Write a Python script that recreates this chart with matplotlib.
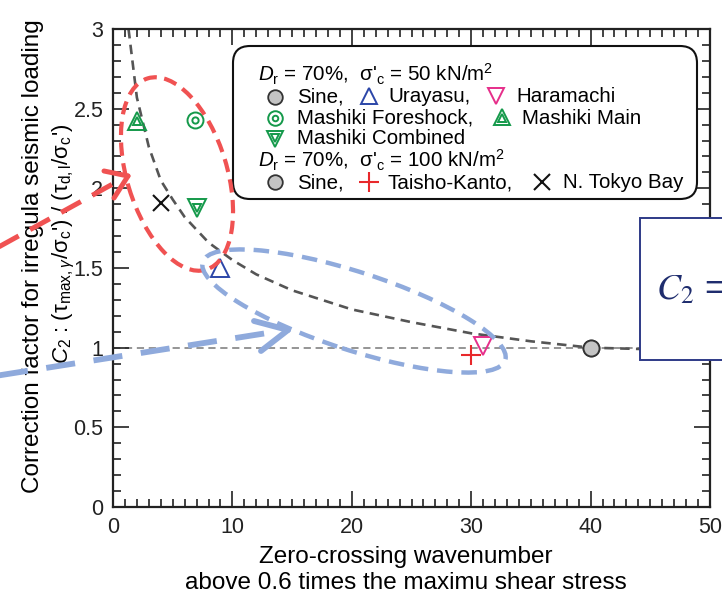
import matplotlib
matplotlib.use("Agg")
import matplotlib.pyplot as plt
from matplotlib.lines import Line2D
from matplotlib.patches import Ellipse, FancyBboxPatch, Rectangle
from matplotlib.ticker import MultipleLocator, FormatStrFormatter

plt.rcParams['font.family'] = ['Liberation Sans', 'DejaVu Sans']
plt.rcParams['mathtext.fontset'] = 'custom'
plt.rcParams['mathtext.rm'] = 'Liberation Sans'
plt.rcParams['mathtext.it'] = 'Liberation Sans:italic'
plt.rcParams['mathtext.bf'] = 'Liberation Sans:bold'

# ---------------- data ----------------
sine_x = [40, 40]
sine_y = [1.0, 1.0]
urayasu_x, urayasu_y = [9.0], [1.50]
haramachi_x, haramachi_y = [31.0], [1.01]
foreshock_x, foreshock_y = [6.9], [2.43]
main_x, main_y = [2.0], [2.42]
combined_x, combined_y = [7.0], [1.875]
taisho_x, taisho_y = [30.0], [0.955]
tokyo_x, tokyo_y = [4.0], [1.905]

curve_x = [1.3, 2, 3, 4, 5, 6, 8, 10, 12, 15, 20, 25, 30, 35, 40, 45, 50]
curve_y = [3.0, 2.57, 2.26, 2.05, 1.93, 1.82, 1.66, 1.55, 1.46, 1.36, 1.24, 1.16, 1.09, 1.04, 1.0, 0.99, 0.98]

ref_x = [0, 50]
ref_y = [1.0, 1.0]

x_ticks = [0, 10, 20, 30, 40, 50]
y_ticks = [0, 0.5, 1, 1.5, 2, 2.5, 3]

# colours
C_BLUE = '#2B46A8'
C_MAG = '#E62E8A'
C_GREEN = '#14994A'
C_RED = '#E8282B'
C_GRAYF = '#C4C4C4'
C_REDANN = '#F05252'
C_BLUEANN = '#8FAADC'
C_NAVY = '#1F2D6E'

W, H = 722, 597
fig = plt.figure(figsize=(W / 100, H / 100), dpi=100)
ax = fig.add_axes([113 / W, 1 - 507 / H, (710 - 113) / W, (507 - 29) / H])

FS = 15.5
LABFS = 17.5
ax.set_xlim(0, 50)
ax.set_ylim(0, 3)
ax.set_xticks(x_ticks)
ax.set_yticks(y_ticks)
ax.xaxis.set_minor_locator(MultipleLocator(1))
ax.yaxis.set_minor_locator(MultipleLocator(0.1))
ax.yaxis.set_major_formatter(FormatStrFormatter('%g'))
ax.tick_params(which='both', direction='in', top=True, right=True, width=1.2, colors='#222222')
ax.tick_params(which='major', length=11.5, labelsize=FS, pad=7)
ax.tick_params(which='minor', length=6)
for s in ax.spines.values():
    s.set_linewidth(1.6)
    s.set_color('#222222')

# reference and fitted curve
ax.plot(ref_x, ref_y, color='#8c8c8c', lw=1.3, ls=(0, (4, 2.6)), zorder=1)
ax.plot(curve_x, curve_y, color='#555555', lw=1.9, ls=(0, (3.6, 2.4)), zorder=2)

# data points
ax.plot(sine_x, sine_y, 'o', ms=11.5, mfc=C_GRAYF, mec='#333333', mew=1.3, ls='none', zorder=4)
ax.plot(urayasu_x, urayasu_y, '^', ms=13, mfc='none', mec=C_BLUE, mew=1.4, ls='none', zorder=4)
ax.plot(haramachi_x, haramachi_y, 'v', ms=13, mfc='none', mec=C_MAG, mew=1.4, ls='none', zorder=4)
ax.plot(foreshock_x, foreshock_y, 'o', ms=11.5, mfc='none', mec=C_GREEN, mew=1.4, ls='none', zorder=4)
ax.plot(foreshock_x, foreshock_y, 'o', ms=4.5, mfc='none', mec=C_GREEN, mew=1.4, ls='none', zorder=4)
ax.plot(main_x, main_y, '^', ms=13, mfc='none', mec=C_GREEN, mew=1.4, ls='none', zorder=4)
ax.plot(main_x, main_y, '^', ms=6, mfc='none', mec=C_GREEN, mew=1.4, ls='none', zorder=4)
ax.plot(combined_x, combined_y, 'v', ms=13, mfc='none', mec=C_GREEN, mew=1.4, ls='none', zorder=4)
ax.plot(combined_x, combined_y, 'v', ms=6, mfc='none', mec=C_GREEN, mew=1.4, ls='none', zorder=4)
ax.plot(taisho_x, taisho_y, '+', ms=14, mec=C_RED, mew=1.5, ls='none', zorder=4)
ax.plot(tokyo_x, tokyo_y, 'x', ms=12, mec='#111111', mew=1.5, ls='none', zorder=4)

# ---------------- helpers (figure pixels, y from top) ----------------
def fx(x):
    return x / W

def fy(y):
    return 1 - y / H

def inch(x, y):
    return x / 100, (H - y) / 100

IT = fig.dpi_scale_trans

# axis labels
fig.text(fx(406), fy(557), 'Zero-crossing wavenumber', ha='center', va='center', fontsize=LABFS)
fig.text(fx(406), fy(583), 'above 0.6 times the maximu shear stress', ha='center', va='center', fontsize=LABFS)
fig.text(fx(33), fy(256), 'Correction factor for irregula seismic loading', rotation=90,
         ha='center', va='center', fontsize=LABFS)
fig.text(fx(64), fy(244),
         r"$C_2$ : (τ$_{\mathrm{max},\gamma}$/σ$_\mathrm{c}$') / (τ$_\mathrm{d,l}$/σ$_\mathrm{c}$')",
         rotation=90, ha='center', va='center', fontsize=16)

# ---------------- legend box ----------------
bx0, by0 = inch(233, 199)
box = FancyBboxPatch((bx0, by0), (697 - 233) / 100, (199 - 46) / 100,
                     boxstyle='round,pad=0,rounding_size=0.17', transform=IT,
                     facecolor='white', edgecolor='#111111', lw=1.5, zorder=3)
fig.add_artist(box)

LFS = 14.8

def ltext(x, y, s):
    fig.text(fx(x), fy(y), s, ha='left', va='center', fontsize=LFS, zorder=4)

def lmark(x, y, **kw):
    fig.add_artist(Line2D([fx(x)], [fy(y)], transform=fig.transFigure, ls='none', zorder=4, **kw))

ltext(258, 74, r"$D_\mathrm{r}$ = 70%,  σ'$_\mathrm{c}$ = 50 kN/m$^2$")
lmark(275, 97, marker='o', ms=10.5, mfc=C_GRAYF, mec='#333333', mew=1.3)
ltext(297, 97, 'Sine,')
lmark(369, 96, marker='^', ms=12, mfc='none', mec=C_BLUE, mew=1.4)
ltext(388, 97, 'Urayasu,')
lmark(496, 96, marker='v', ms=12, mfc='none', mec=C_MAG, mew=1.4)
ltext(516, 97, 'Haramachi')

lmark(275, 118, marker='o', ms=10.5, mfc='none', mec=C_GREEN, mew=1.4)
lmark(275, 118, marker='o', ms=4, mfc='none', mec=C_GREEN, mew=1.4)
ltext(297, 118, 'Mashiki Foreshock,')
lmark(502, 117, marker='^', ms=12, mfc='none', mec=C_GREEN, mew=1.4)
lmark(502, 118, marker='^', ms=5.5, mfc='none', mec=C_GREEN, mew=1.4)
ltext(522, 118, 'Mashiki Main')

lmark(275, 139, marker='v', ms=12, mfc='none', mec=C_GREEN, mew=1.4)
lmark(275, 138, marker='v', ms=5.5, mfc='none', mec=C_GREEN, mew=1.4)
ltext(297, 139, 'Mashiki Combined')

ltext(258, 160, r"$D_\mathrm{r}$ = 70%,  σ'$_\mathrm{c}$ = 100 kN/m$^2$")
lmark(275, 182, marker='o', ms=10.5, mfc=C_GRAYF, mec='#333333', mew=1.3)
ltext(297, 183, 'Sine,')
lmark(369, 182, marker='+', ms=14, mec=C_RED, mew=1.5)
ltext(388, 183, 'Taisho-Kanto,')
lmark(542, 182, marker='x', ms=11.5, mec='#111111', mew=1.5)
ltext(563, 183, 'N. Tokyo Bay')

# ---------------- annotations ----------------
cx, cy = inch(177, 174)
fig.add_artist(Ellipse((cx, cy), 2.00, 1.00, angle=-73, transform=IT, fill=False,
                       edgecolor=C_REDANN, lw=3.0, ls=(0, (3.2, 1.8)), zorder=6))
cx, cy = inch(354, 311)
fig.add_artist(Ellipse((cx, cy), 3.18, 0.78, angle=-18, transform=IT, fill=False,
                       edgecolor=C_BLUEANN, lw=3.2, ls=(0, (3.5, 2.0)), zorder=6))

def seg(p0, p1, color, lw, ls='-'):
    a = inch(*p0)
    b = inch(*p1)
    fig.add_artist(Line2D([a[0], b[0]], [a[1], b[1]], transform=IT, color=color, lw=lw,
                          ls=ls, solid_capstyle='round', zorder=7))

# red arrow
seg((-5, 249), (120, 180), C_REDANN, 3.6, ls=(0, (4.5, 2.6)))
seg((104, 171), (128, 176), C_REDANN, 3.6)
seg((114, 198), (128, 176), C_REDANN, 3.6)
# blue arrow
seg((-5, 376), (280, 331), C_BLUEANN, 4.2, ls=(0, (5.0, 3.2)))
seg((254, 321), (288, 330), C_BLUEANN, 4.2)
seg((261, 351), (288, 330), C_BLUEANN, 4.2)

# C2 box on the right
rx, ry = inch(640, 360)
fig.add_artist(Rectangle((rx, ry), 1.2, 1.42, transform=IT, facecolor='white',
                         edgecolor='#2E3A87', lw=1.4, zorder=8))
fig.text(fx(656), fy(290), r'$C_2$ =', ha='left', va='center', fontsize=26,
         color=C_NAVY, math_fontfamily='stix', zorder=9)

fig.savefig('out.png', dpi=100)
